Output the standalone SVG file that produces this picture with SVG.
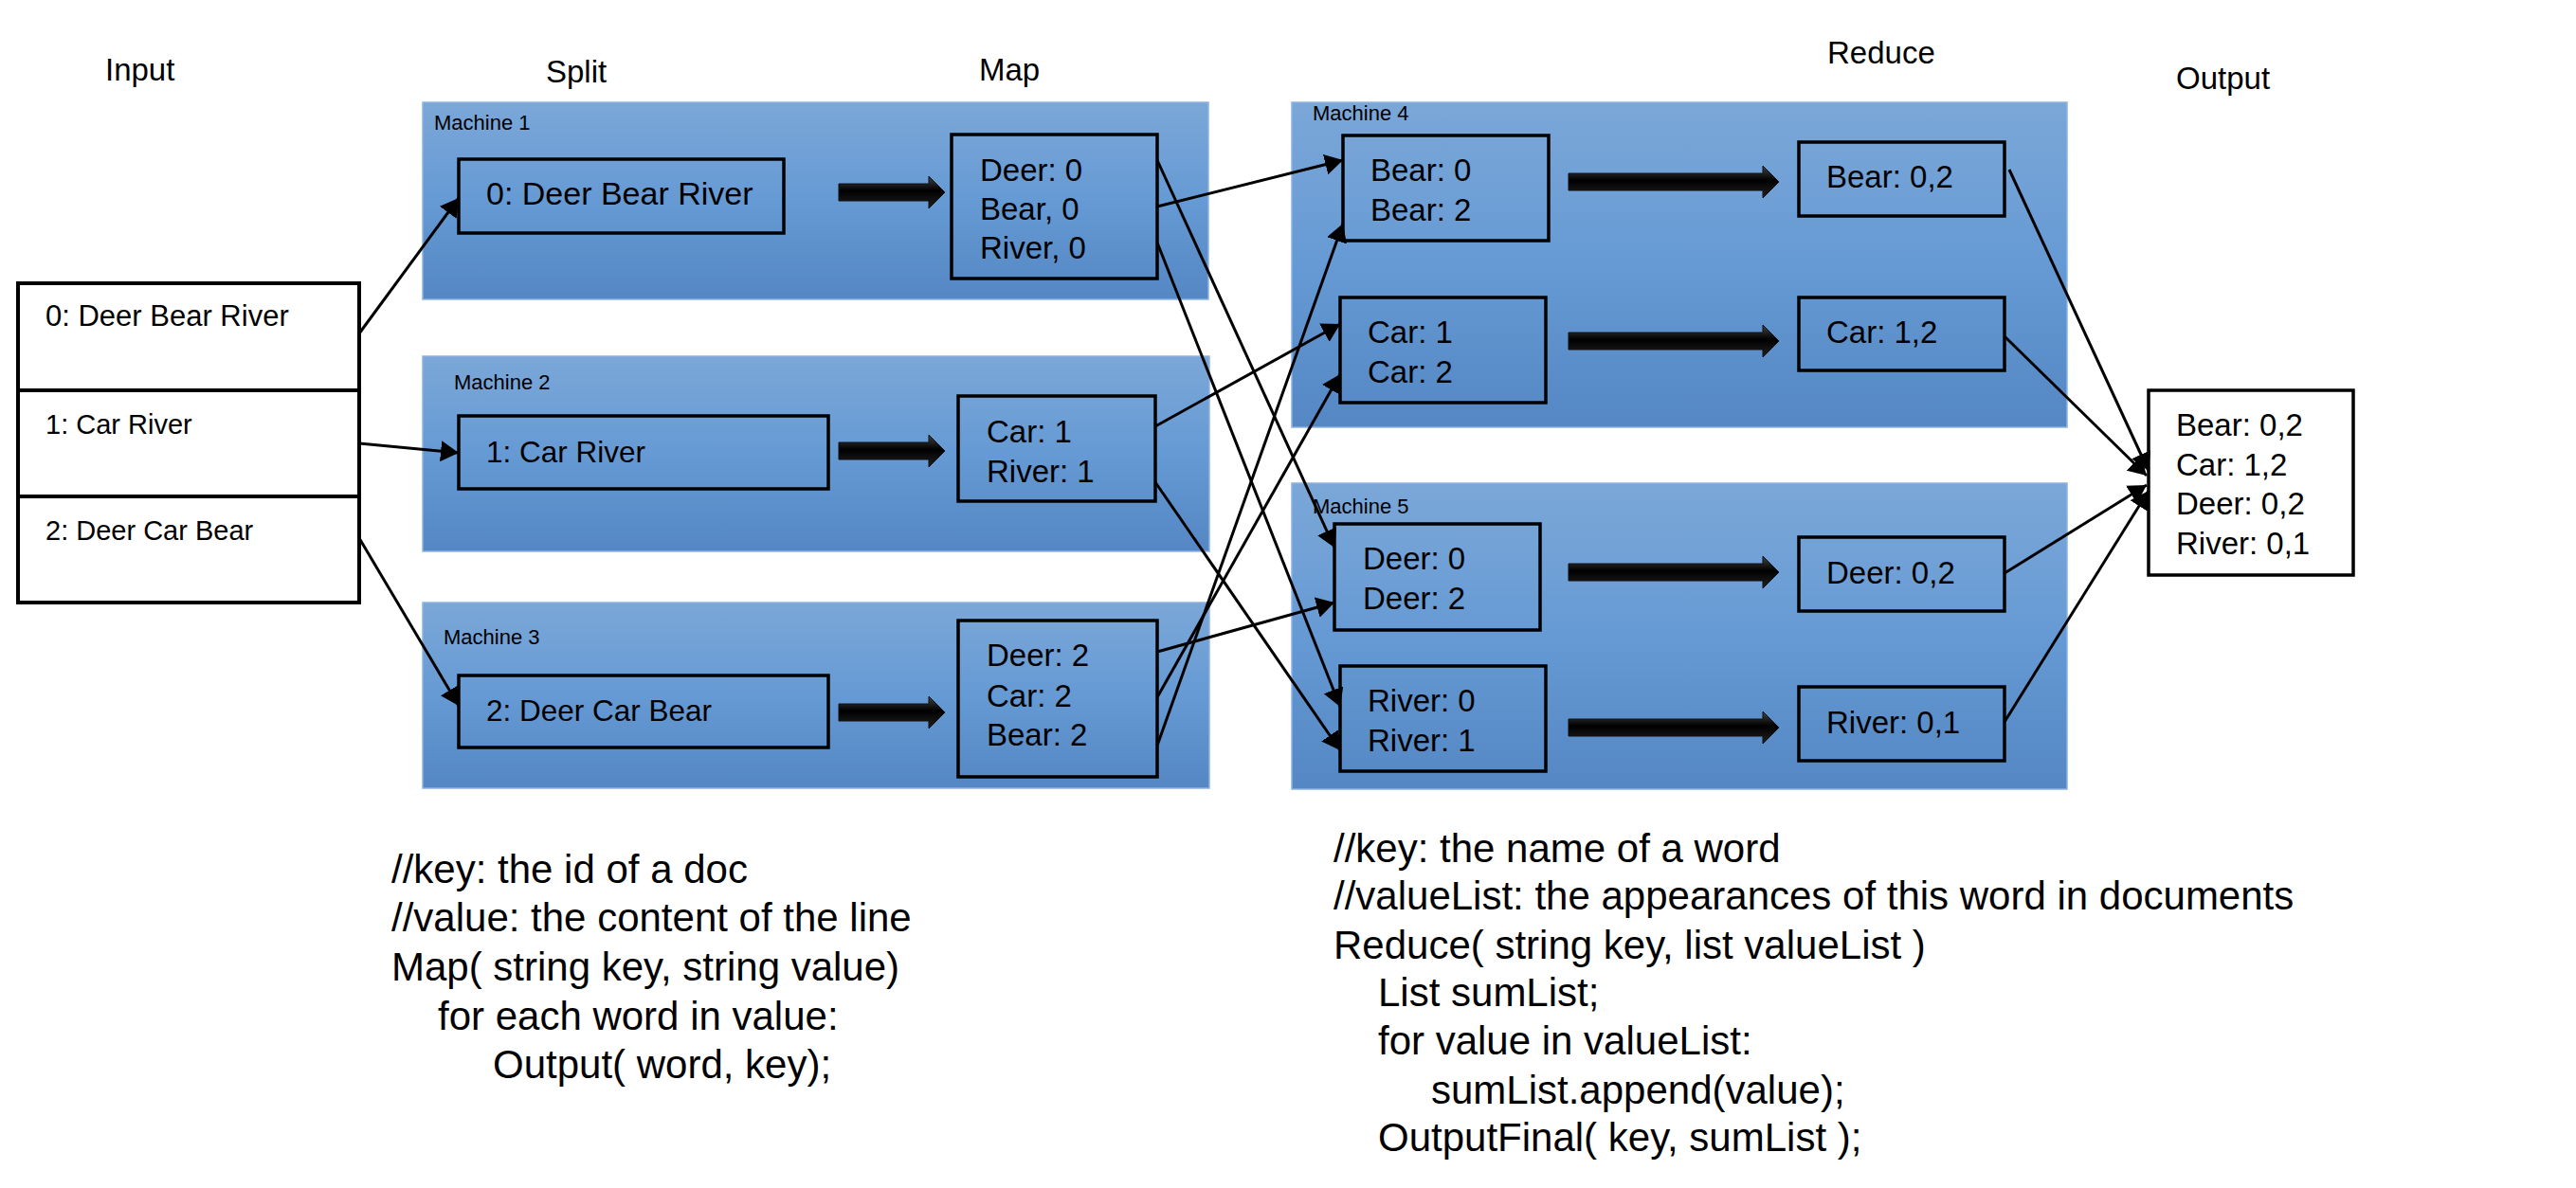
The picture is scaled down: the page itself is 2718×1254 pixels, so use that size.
<svg xmlns="http://www.w3.org/2000/svg" width="2718" height="1254" viewBox="0 0 2718 1254">
<defs>
<linearGradient id="mg" x1="0" y1="0" x2="0" y2="1">
<stop offset="0" stop-color="#7BA7D8"/>
<stop offset="0.5" stop-color="#669AD4"/>
<stop offset="1" stop-color="#5487C3"/>
</linearGradient>
<linearGradient id="ag" x1="0" y1="0" x2="0" y2="1">
<stop offset="0" stop-color="#444"/>
<stop offset="0.45" stop-color="#000"/>
<stop offset="1" stop-color="#222"/>
</linearGradient>
<marker id="ah" markerUnits="userSpaceOnUse" markerWidth="20" markerHeight="22" refX="19" refY="11" orient="auto">
<path d="M0,0 L19,11 L0,22 z" fill="#000"/>
</marker>
<style>
.t{font-family:"Liberation Sans",Arial,sans-serif;fill:#000}
.title{font-size:33px}
.mach{font-size:22px}
.bx{font-size:33px}
.code{font-size:42px}
.cont{fill:url(#mg);stroke:#8DB3E2;stroke-width:1.5}
.box{fill:none;stroke:#000;stroke-width:3.5}
.ln{fill:none;stroke:#000;stroke-width:3;marker-end:url(#ah)}
.fat{fill:url(#ag);stroke:#111;stroke-width:1}
</style>
</defs>
<rect width="2718" height="1254" fill="#fff"/>

<g id="titles">
<text class="t title" x="111" y="85">Input</text>
<text class="t title" x="576" y="87">Split</text>
<text class="t title" x="1033" y="85">Map</text>
<text class="t title" x="1928" y="67">Reduce</text>
<text class="t title" x="2296" y="94">Output</text>
</g>

<g id="machine1">
<rect class="cont" x="446" y="108" width="829" height="208"/>
<text class="t mach" x="458" y="137">Machine 1</text>
</g>
<g id="machine2">
<rect class="cont" x="446" y="376" width="830" height="206"/>
<text class="t mach" x="479" y="411">Machine 2</text>
</g>
<g id="machine3">
<rect class="cont" x="446" y="636" width="830" height="196"/>
<text class="t mach" x="468" y="680">Machine 3</text>
</g>
<g id="machine4">
<rect class="cont" x="1363" y="108" width="818" height="343"/>
<text class="t mach" x="1385" y="127">Machine 4</text>
</g>
<g id="machine5">
<rect class="cont" x="1363" y="510" width="818" height="323"/>
<text class="t mach" x="1385" y="542">Machine 5</text>
</g>

<g id="input">
<rect x="19" y="299" width="360" height="337" fill="#fff" stroke="#000" stroke-width="4"/>
<line x1="19" y1="412" x2="379" y2="412" stroke="#000" stroke-width="4"/>
<line x1="19" y1="524" x2="379" y2="524" stroke="#000" stroke-width="4"/>
<text class="t" font-size="31" x="48" y="344">0: Deer Bear River</text>
<text class="t" font-size="29" x="48" y="458">1: Car River</text>
<text class="t" font-size="29" x="48" y="570">2: Deer Car Bear</text>
</g>

<g id="split1">
<rect class="box" x="484" y="168" width="343" height="78"/>
<text class="t" font-size="34" x="513" y="216">0: Deer Bear River</text>
</g>
<g id="split2">
<rect class="box" x="484" y="439" width="390" height="77"/>
<text class="t" font-size="31.5" x="513" y="488">1: Car River</text>
</g>
<g id="split3">
<rect class="box" x="484" y="713" width="390" height="76"/>
<text class="t" font-size="31.5" x="513" y="761">2: Deer Car Bear</text>
</g>

<g id="map1">
<rect class="box" x="1004" y="142" width="217" height="152"/>
<text class="t bx" x="1034" y="191">Deer: 0</text>
<text class="t bx" x="1034" y="232">Bear, 0</text>
<text class="t bx" x="1034" y="273">River, 0</text>
</g>
<g id="map2">
<rect class="box" x="1011" y="418" width="208" height="111"/>
<text class="t bx" x="1041" y="467">Car: 1</text>
<text class="t bx" x="1041" y="509">River: 1</text>
</g>
<g id="map3">
<rect class="box" x="1011" y="655" width="210" height="165"/>
<text class="t bx" x="1041" y="703">Deer: 2</text>
<text class="t bx" x="1041" y="746">Car: 2</text>
<text class="t bx" x="1041" y="787">Bear: 2</text>
</g>

<g id="group-bear">
<rect class="box" x="1417" y="143" width="217" height="111"/>
<text class="t bx" x="1446" y="191">Bear: 0</text>
<text class="t bx" x="1446" y="233">Bear: 2</text>
</g>
<g id="group-car">
<rect class="box" x="1414" y="314" width="217" height="111"/>
<text class="t bx" x="1443" y="362">Car: 1</text>
<text class="t bx" x="1443" y="404">Car: 2</text>
</g>
<g id="group-deer">
<rect class="box" x="1408" y="553" width="217" height="112"/>
<text class="t bx" x="1438" y="601">Deer: 0</text>
<text class="t bx" x="1438" y="643">Deer: 2</text>
</g>
<g id="group-river">
<rect class="box" x="1414" y="703" width="217" height="111"/>
<text class="t bx" x="1443" y="751">River: 0</text>
<text class="t bx" x="1443" y="793">River: 1</text>
</g>

<g id="reduce-bear">
<rect class="box" x="1898" y="150" width="217" height="78"/>
<text class="t bx" x="1927" y="198">Bear: 0,2</text>
</g>
<g id="reduce-car">
<rect class="box" x="1898" y="314" width="217" height="77"/>
<text class="t bx" x="1927" y="362">Car: 1,2</text>
</g>
<g id="reduce-deer">
<rect class="box" x="1898" y="567" width="217" height="78"/>
<text class="t bx" x="1927" y="616">Deer: 0,2</text>
</g>
<g id="reduce-river">
<rect class="box" x="1898" y="725" width="217" height="78"/>
<text class="t bx" x="1927" y="774">River: 0,1</text>
</g>

<g id="output">
<rect x="2267" y="412" width="216" height="195" fill="#fff" stroke="#000" stroke-width="3.5"/>
<text class="t bx" x="2296" y="460">Bear: 0,2</text>
<text class="t bx" x="2296" y="502">Car: 1,2</text>
<text class="t bx" x="2296" y="543">Deer: 0,2</text>
<text class="t bx" x="2296" y="585">River: 0,1</text>
</g>

<g id="connectors">
<line class="ln" x1="379" y1="352" x2="484" y2="209"/>
<line class="ln" x1="379" y1="468" x2="484" y2="478"/>
<line class="ln" x1="379" y1="568" x2="484" y2="745"/>

<path class="fat" d="M885,194 H980 V186 L997,203 L980,220 V212 H885 Z"/>
<path class="fat" d="M885,467 H980 V459 L997,476 L980,493 V485 H885 Z"/>
<path class="fat" d="M885,743 H980 V735 L997,752 L980,769 V761 H885 Z"/>

<line class="ln" x1="1221" y1="169" x2="1408" y2="578"/>
<line class="ln" x1="1221" y1="218" x2="1417" y2="169"/>
<line class="ln" x1="1221" y1="256" x2="1414" y2="746"/>
<line class="ln" x1="1219" y1="450" x2="1414" y2="342"/>
<line class="ln" x1="1219" y1="509" x2="1414" y2="792"/>
<line class="ln" x1="1221" y1="688" x2="1408" y2="636"/>
<line class="ln" x1="1221" y1="736" x2="1414" y2="395"/>
<line class="ln" x1="1221" y1="787" x2="1417" y2="236"/>

<path class="fat" d="M1655,183 H1860 V175 L1877,192 L1860,209 V201 H1655 Z"/>
<path class="fat" d="M1655,351 H1860 V343 L1877,360 L1860,377 V369 H1655 Z"/>
<path class="fat" d="M1655,595 H1860 V587 L1877,604 L1860,621 V613 H1655 Z"/>
<path class="fat" d="M1655,759 H1860 V751 L1877,768 L1860,785 V777 H1655 Z"/>

<line class="ln" x1="2120" y1="179" x2="2267" y2="497"/>
<line class="ln" x1="2115" y1="355" x2="2265" y2="502"/>
<line class="ln" x1="2115" y1="605" x2="2265" y2="512"/>
<line class="ln" x1="2115" y1="762" x2="2267" y2="518"/>
</g>

<g id="map-code">
<text class="t code" x="413" y="932">//key: the id of a doc</text>
<text class="t code" x="413" y="983">//value: the content of the line</text>
<text class="t code" x="413" y="1035">Map( string key, string value)</text>
<text class="t code" x="462" y="1087">for each word in value:</text>
<text class="t code" x="520" y="1138">Output( word, key);</text>
</g>
<g id="reduce-code">
<text class="t code" x="1407" y="910">//key: the name of a word</text>
<text class="t code" x="1407" y="960">//valueList: the appearances of this word in documents</text>
<text class="t code" x="1407" y="1012">Reduce( string key, list valueList )</text>
<text class="t code" x="1454" y="1062">List sumList;</text>
<text class="t code" x="1454" y="1113">for value in valueList:</text>
<text class="t code" x="1510" y="1165">sumList.append(value);</text>
<text class="t code" x="1454" y="1215">OutputFinal( key, sumList );</text>
</g>
</svg>
